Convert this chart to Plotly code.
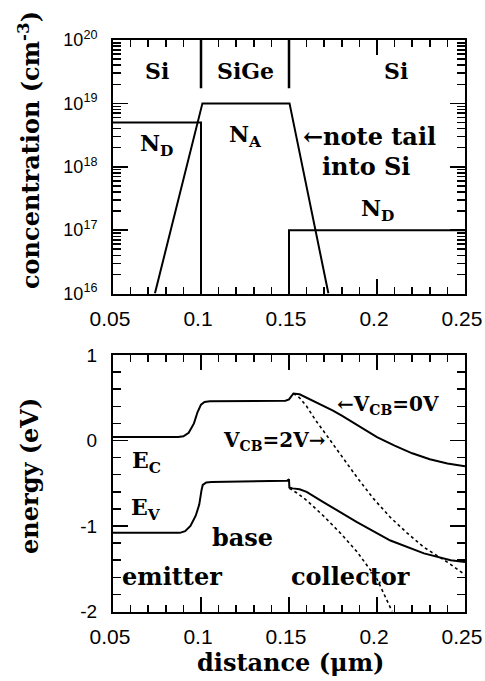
import plotly.graph_objects as go

# ---------------- data ----------------
# top panel: doping profiles (distance in um, concentration in cm^-3)
nd_emitter_x = [0.05, 0.10, 0.10]
nd_emitter_y = [5e18, 5e18, 1e16]
na_base_x = [0.0738, 0.1008, 0.1503, 0.1724]
na_base_y = [1e16, 1e19, 1e19, 1e16]
nd_coll_x = [0.15, 0.15, 0.25]
nd_coll_y = [1e16, 1e17, 1e17]
region_bounds = [0.10, 0.15]

# bottom panel: band edges (eV)
ec0_x = [0.05, 0.087, 0.090, 0.093, 0.096, 0.098, 0.100, 0.102, 0.105, 0.148, 0.150, 0.1525,
         0.156, 0.160, 0.165, 0.170, 0.175, 0.180, 0.190, 0.200, 0.210, 0.220, 0.230, 0.240, 0.250]
ec0_y = [0.04, 0.04, 0.05, 0.09, 0.20, 0.33, 0.42, 0.45, 0.46, 0.465, 0.48, 0.55,
         0.54, 0.50, 0.45, 0.40, 0.35, 0.29, 0.17, 0.04, -0.06, -0.15, -0.22, -0.27, -0.30]
ec2_x = [0.1525, 0.156, 0.160, 0.165, 0.170, 0.1773, 0.1886, 0.198, 0.2076, 0.217, 0.2267, 0.2405, 0.250]
ec2_y = [0.55, 0.50, 0.40, 0.24, 0.10, -0.11, -0.43, -0.68, -0.90, -1.08, -1.25, -1.43, -1.57]
ev0_x = [0.05, 0.088, 0.091, 0.094, 0.097, 0.099, 0.1003, 0.101, 0.103, 0.106, 0.149, 0.150, 0.1502,
         0.152, 0.156, 0.160, 0.1695, 0.1886, 0.2076, 0.2267, 0.2419, 0.250]
ev0_y = [-1.08, -1.08, -1.06, -1.00, -0.88, -0.75, -0.58, -0.52, -0.49, -0.485, -0.47, -0.455, -0.55,
         -0.56, -0.57, -0.60, -0.72, -0.955, -1.17, -1.32, -1.40, -1.42]
ev2_x = [0.1502, 0.155, 0.160, 0.1695, 0.180, 0.1886, 0.200, 0.2086]
ev2_y = [-0.56, -0.62, -0.70, -0.88, -1.10, -1.30, -1.62, -2.0]

x_ticks = [0.05, 0.1, 0.15, 0.2, 0.25]
x_ticktext = ["0.05", "0.1", "0.15", "0.2", "0.25"]
conc_ticks = [1e16, 1e17, 1e18, 1e19, 1e20]
conc_ticktext = ["10<sup>16</sup>", "10<sup>17</sup>", "10<sup>18</sup>", "10<sup>19</sup>", "10<sup>20</sup>"]
energy_ticks = [1, 0, -1, -2]
energy_ticktext = ["1", "0", "-1", "-2"]

# ---------------- style ----------------
SERIF = "DejaVu Serif"
SANS = "Liberation Sans, Arial, sans-serif"
LW = 2

W, H = 485, 681

def px(xw):
    return xw / W

def py(yw):
    return 1 - yw / H

fig = go.Figure()

def solid(x, y, xa, ya, dash="solid", w=LW):
    fig.add_trace(go.Scatter(x=x, y=y, xaxis=xa, yaxis=ya, mode="lines",
                             line=dict(color="black", width=w, dash=dash),
                             showlegend=False, hoverinfo="skip"))

solid(nd_emitter_x, nd_emitter_y, "x", "y")
solid(na_base_x, na_base_y, "x", "y")
solid(nd_coll_x, nd_coll_y, "x", "y")
for xb in region_bounds:
    solid([xb, xb], [1e20, 10 ** 19.24], "x", "y", w=2.5)

solid(ec0_x, ec0_y, "x2", "y2")
solid(ev0_x, ev0_y, "x2", "y2")
solid(ec2_x, ec2_y, "x2", "y2", dash="3px,3px", w=1.6)
solid(ev2_x, ev2_y, "x2", "y2", dash="3px,3px", w=1.6)

x_dom = [px(113), px(465)]
top_dom = [py(293.5), py(40)]
bot_dom = [py(611.5), py(355)]

common_x = dict(
    range=[0.05, 0.25], tickvals=x_ticks, ticktext=x_ticktext,
    ticks="inside", ticklen=15, tickwidth=1.5, tickcolor="black",
    showline=True, linecolor="black", linewidth=2, mirror="allticks",
    showgrid=False, zeroline=False, domain=x_dom, automargin=False,
    ticklabeloverflow="allow", ticklabelshift=-3,
    tickfont=dict(family=SANS, size=21, color="black"), ticklabelstandoff=5,
    minor=dict(ticks="inside", ticklen=7, tickwidth=1.5, tickcolor="black", dtick=0.01, showgrid=False),
)

minor_log = [float(m) * 10.0 ** e for e in range(16, 20) for m in range(2, 10)]

fig.update_layout(
    template="none",
    width=W, height=H, margin=dict(l=0, r=0, t=0, b=0, pad=0), autosize=False,
    paper_bgcolor="white", plot_bgcolor="white",
    xaxis=dict(common_x, anchor="y"),
    yaxis=dict(type="log", range=[16, 20], domain=top_dom, anchor="x", automargin=False,
               tickvals=conc_ticks, ticktext=conc_ticktext, ticklabeloverflow="allow",
               ticks="inside", ticklen=15, tickwidth=1.5, tickcolor="black",
               showline=True, linecolor="black", linewidth=2, mirror="allticks",
               showgrid=False, zeroline=False,
               tickfont=dict(family=SANS, size=18, color="black"), ticklabelstandoff=10,
               minor=dict(ticks="inside", ticklen=8, tickwidth=1.5, tickcolor="black",
                          tickvals=minor_log, showgrid=False)),
    xaxis2=dict(common_x, anchor="y2"),
    yaxis2=dict(range=[-2, 1], domain=bot_dom, anchor="x2", automargin=False,
                tickvals=energy_ticks, ticktext=energy_ticktext, ticklabeloverflow="allow",
                ticks="inside", ticklen=15, tickwidth=1.5, tickcolor="black",
                showline=True, linecolor="black", linewidth=2, mirror="allticks",
                showgrid=False, zeroline=False,
                tickfont=dict(family=SANS, size=19, color="black"), ticklabelstandoff=10,
                minor=dict(ticks="inside", ticklen=8, tickwidth=1.5, tickcolor="black",
                           dtick=0.2, showgrid=False)),
)

tfont = dict(family=SERIF, size=22, color="black", weight="bold")

def ann(text, x, y, xref, yref, size=22, **kw):
    fig.add_annotation(text=text, x=x, y=y, xref=xref, yref=yref, showarrow=False,
                       xanchor="center", yanchor="middle",
                       font=dict(tfont, size=size), **kw)

# top panel labels (y in log10 units)
ann("Si", 0.0751, 19.51, "x", "y", size=22)
ann("SiGe", 0.1254, 19.51, "x", "y", size=22)
ann("Si", 0.211, 19.51, "x", "y", size=22)
ann("N<sub>D</sub>", 0.0746, 18.34, "x", "y")
ann("N<sub>A</sub>", 0.125, 18.49, "x", "y")
ann("\u2190note tail", 0.1957, 18.48, "x", "y", size=24)
ann("into Si", 0.194, 18.01, "x", "y", size=24)
ann("N<sub>D</sub>", 0.2003, 17.32, "x", "y")

# bottom panel labels
ann("E<sub>C</sub>", 0.069, -0.25, "x2", "y2")
ann("E<sub>V</sub>", 0.069, -0.80, "x2", "y2")
ann("base", 0.1237, -1.13, "x2", "y2", size=24)
ann("emitter", 0.0837, -1.59, "x2", "y2", size=24)
ann("collector", 0.185, -1.59, "x2", "y2", size=24)
ann("V<sub>CB</sub>=2V\u2192", 0.142, 0.0, "x2", "y2", size=20)
ann("\u2190V<sub>CB</sub>=0V", 0.206, 0.42, "x2", "y2", size=20)

# axis titles
ann("concentration (cm<sup>-3</sup>)", px(29), py(150), "paper", "paper", size=24, textangle=-90)
ann("energy (eV)", px(29), py(476), "paper", "paper", size=24, textangle=-90)
ann("distance (\u03bcm)", px(290), py(662), "paper", "paper", size=24)

fig.write_html("out.html", config={"displayModeBar": False, "staticPlot": True},
               post_script="document.body.style.margin='0px';")
